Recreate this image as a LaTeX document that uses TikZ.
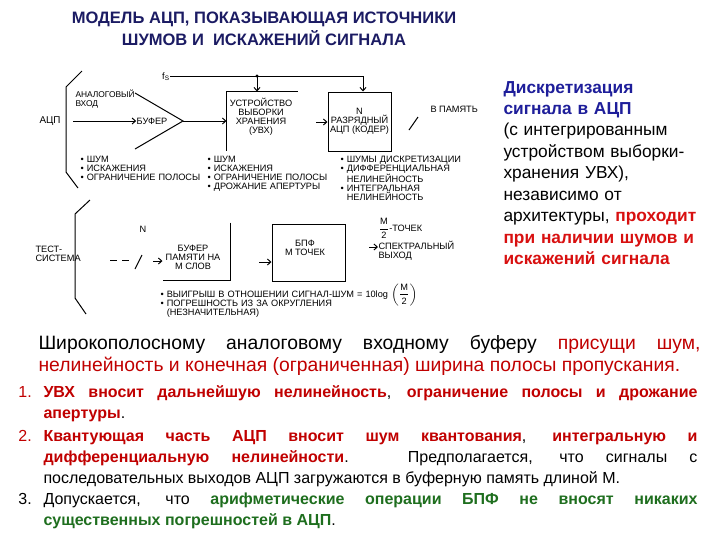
\documentclass[tikz,border=0pt]{standalone}
\usepackage{amsmath}
\usepackage{fontspec}
\setmainfont{Liberation Sans}
\usetikzlibrary{arrows.meta,calc,positioning}
\definecolor{titleblue}{HTML}{1B1B63}
\definecolor{noteblue}{HTML}{1E1E9A}
\definecolor{notered}{HTML}{D81010}
\definecolor{listred}{HTML}{C00000}
\definecolor{listgreen}{HTML}{1E6E1E}
\tikzset{
  lbl/.style={font=\fontsize{6.9}{6.75}\selectfont,inner sep=0pt},
  blk/.style={minimum width=#1,inner sep=0pt},
  listtxt/.style={font=\fontsize{12}{16}\selectfont,inner sep=0pt,anchor=base west},
}
\begin{document}
\begin{tikzpicture}[x=0.75pt,y=-0.75pt,>={Straight Barb[length=2.5pt,width=4.5pt]},line width=0.75pt]
  \useasboundingbox (0,0) rectangle (720,540);
  \node[font=\bfseries\fontsize{12.4}{14}\selectfont,text=titleblue] (title1) at (264,19) {МОДЕЛЬ АЦП, ПОКАЗЫВАЮЩАЯ ИСТОЧНИКИ};
  \node[font=\bfseries\fontsize{12.4}{14}\selectfont,text=titleblue] (title2) at (264,38) {ШУМОВ И \ ИСКАЖЕНИЙ СИГНАЛА};

  \node[lbl,font=\fontsize{7.4}{8}\selectfont] (adclab) at (50,121) {АЦП};
  \draw (82,71) -- (66,87) -- (66,172) -- (78,188);
  \coordinate (in) at (73,121);
  \node[lbl] (buf) at (152,121) {БУФЕР};
  \draw[->] (in) -- (buf);
  \node[lbl,anchor=base west,text width=60pt,align=left,font=\fontsize{6.3}{7}\selectfont] (invec) at (75,97) {АНАЛОГОВЫЙ\\ВХОД};
  \coordinate (tip) at (183,121);
  \draw (135,93) -- (tip) -- (135,149);
  \node[blk=52.5pt,minimum height=43.5pt] (shb) at (262,121) {};
  \node[lbl,align=center] (shbtxt) at (261,116.5) {УСТРОЙСТВО\\ВЫБОРКИ\\ХРАНЕНИЯ\\(УВХ)};
  \draw (shb.south west) -- (shb.north west) -- (shb.north east);
  \draw[->] (tip) -- (shb.west);
  \node[lbl] (fs) at (166,77) {f\textsubscript{S}};
  \coordinate (clk) at (257,76);
  \coordinate (clkend) at (363,76);
  \node[draw,blk=47.25pt,minimum height=44.25pt,lbl,align=center] (adc) at (359.5,121.5) {N\\РАЗРЯДНЫЙ\\АЦП (КОДЕР)};
  \draw (fs.east |- clk) -- (clkend);
  \fill (clk) circle[radius=1.3pt];
  \draw[->] (clk) -- (shb.north -| clk);
  \draw[->] (clkend) -- (adc.north -| clkend);
  \coordinate (adcin) at (316,122);
  \draw[->] (adcin) -- (adc.west |- adcin);
  \draw (409,130) -- (418,117);
  \node[lbl,anchor=west] (mem) at (430,109) {В ПАМЯТЬ};

  \node[lbl,anchor=base west,text width=110pt,align=left] (bufnoise) at (80,162) {• ШУМ\\• ИСКАЖЕНИЯ\\• ОГРАНИЧЕНИЕ ПОЛОСЫ};
  \node[lbl,anchor=base west,text width=110pt,align=left] (shbnoise) at (207,162) {• ШУМ\\• ИСКАЖЕНИЯ\\• ОГРАНИЧЕНИЕ ПОЛОСЫ\\• ДРОЖАНИЕ АПЕРТУРЫ};
  \node[lbl,anchor=base west,text width=110pt,align=left] (adcnoise) at (340,162) {• ШУМЫ ДИСКРЕТИЗАЦИИ\\• ДИФФЕРЕНЦИАЛЬНАЯ\\\phantom{• }НЕЛИНЕЙНОСТЬ\\• ИНТЕГРАЛЬНАЯ\\\phantom{• }НЕЛИНЕЙНОСТЬ};

  \node[lbl,anchor=base west,text width=40pt,align=left] (test) at (35,252) {ТЕСТ-\\СИСТЕМА};
  \draw (90,200) -- (75,214) -- (75,298) -- (86,314);
  \draw[dash pattern=on 5.25pt off 3.75pt] (110,260) -- (129,260);
  \draw (135,269) -- (142,255);
  \node[lbl] (nbits) at (143,229) {N};
  \node[blk=50.25pt,minimum height=42.75pt] (bufmem) at (196.5,251.5) {};
  \node[lbl,align=center] (bufmemtxt) at (193,257.5) {БУФЕР\\ПАМЯТИ НА\\M СЛОВ};
  \draw (bufmem.north east) -- (bufmem.south east) -- (bufmem.south west);
  \coordinate (bmin) at (153,261);
  \draw[->] (bmin) -- (bufmem.west |- bmin);
  \node[draw,blk=54.75pt,minimum height=42.75pt] (fft) at (308.5,252.5) {};
  \node[lbl,align=center] (ffttxt) at (305,247.5) {БПФ\\M ТОЧЕК};
  \coordinate (fftin) at (259,262);
  \draw[->] (fftin) -- (fft.west |- fftin);
  \node[lbl,anchor=west] (pts) at (378,228) {$\dfrac{\text{M}}{\text{2}}$-ТОЧЕК};
  \node[lbl,anchor=base west,text width=60pt,align=left] (specout) at (378,249) {СПЕКТРАЛЬНЫЙ\\ВЫХОД};
  \coordinate (soin) at (369,247);
  \draw[->] (soin) -- (specout.west |- soin);
  \node[lbl,anchor=base west,text width=250pt,align=left,font=\fontsize{6.9}{7.1}\selectfont] (fftnotes) at (160,297) {• ВЫИГРЫШ В ОТНОШЕНИИ СИГНАЛ-ШУМ = 10log \smash{$\left(\dfrac{\text{M}}{\text{2}}\right)$}\\• ПОГРЕШНОСТЬ ИЗ ЗА ОКРУГЛЕНИЯ\\\phantom{• }(НЕЗНАЧИТЕЛЬНАЯ)};

  \node[anchor=base west,text width=165pt,align=left,inner sep=0pt,font=\fontsize{13}{16.1}\selectfont] (note) at (503,93) {{\color{noteblue}\bfseries Дискретизация\\сигнала в АЦП}\\(с интегрированным\\устройством выборки-\\хранения УВХ),\\независимо от\\архитектуры, {\color{notered}\bfseries проходит\\при наличии шумов и\\искажений сигнала}};

  \node[anchor=base west,text width=496.5pt,align=justify,inner sep=0pt,font=\fontsize{14.5}{16.5}\selectfont] (wide) at (38,349) {Широкополосному аналоговому входному буферу {\color{listred}присущи шум,}\linebreak{\color{listred}нелинейность и конечная (ограниченная) ширина полосы пропускания.}};

  \node[listtxt,text=listred] (n1) at (18,397) {1.};
  \node[listtxt,text width=490.5pt,align=justify] (item1) at (43,397) {{\color{listred}\bfseries УВХ вносит дальнейшую нелинейность}, {\color{listred}\bfseries ограничение полосы и дрожание\linebreak апертуры}.};
  \node[listtxt,text=listred] (n2) at (18,441) {2.};
  \node[listtxt,text width=490.5pt,align=justify] (item2) at (43,441) {{\color{listred}\bfseries Квантующая часть АЦП вносит шум квантования}, {\color{listred}\bfseries интегральную и\linebreak дифференциальную нелинейности}. Предполагается, что сигналы с\linebreak последовательных выходов АЦП загружаются в буферную память длиной М.};
  \node[listtxt] (n3) at (18,504) {3.};
  \node[listtxt,text width=490.5pt,align=justify] (item3) at (43,504) {Допускается, что {\color{listgreen}\bfseries арифметические операции БПФ не вносят никаких\linebreak существенных погрешностей в АЦП}.};
\end{tikzpicture}
\end{document}
